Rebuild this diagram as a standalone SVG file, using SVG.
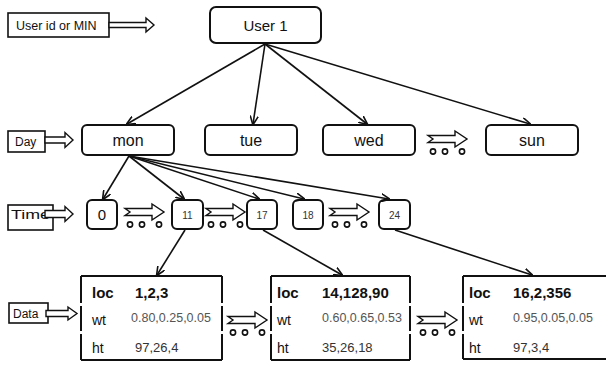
<svg xmlns="http://www.w3.org/2000/svg" xmlns:xlink="http://www.w3.org/1999/xlink" width="606" height="367" viewBox="0 0 606 367">
<style>
text{font-family:"Liberation Sans",Arial,sans-serif;fill:#111}
.node{fill:#fff;stroke:#111;stroke-width:2}
.lbl{fill:#fff;stroke:#111;stroke-width:1.6}
.harrow{fill:#fff;stroke:#111;stroke-width:1.4}
.conn{stroke:#111;stroke-width:1.6;fill:none;marker-end:url(#ah)}
.bord{stroke:#111;stroke-width:2;fill:none}
.dk{font-size:14px}
.bk{font-size:15px;font-weight:bold}
.sm{font-size:12.5px;fill:#555}
.md{font-size:13px;fill:#333}
.nd{font-size:16px}
.tn{font-size:10px;fill:#333}
</style>
<defs>
<marker id="ah" viewBox="0 0 10 10" refX="9" refY="5" markerWidth="9" markerHeight="9" markerUnits="userSpaceOnUse" orient="auto">
<path d="M0,0.5 L10,5 L0,9.5" fill="none" stroke="#111" stroke-width="1.8"/>
</marker>
<g id="ooo">
<path class="harrow" d="M0,-3.5 H27 V-8 L39,0 L27,8 V3.5 H0 L5,0 Z"/>
<circle cx="5" cy="12.5" r="2.6" fill="#fff" stroke="#111" stroke-width="1.6"/>
<circle cx="17" cy="12.5" r="2.6" fill="#fff" stroke="#111" stroke-width="1.6"/>
<circle cx="34" cy="12.5" r="2.6" fill="#fff" stroke="#111" stroke-width="1.6"/>
</g>
</defs>

<g id="legend-user">
<rect class="lbl" x="8" y="13" width="101" height="24"/>
<text x="16" y="30" font-size="12.5">User id or MIN</text>
<path class="harrow" d="M109,22.5 H146 V18 L154,25 L146,32 V27.5 H109 Z"/>
</g>
<g id="legend-day">
<rect class="lbl" x="8" y="131" width="37" height="21"/>
<text x="15" y="146" font-size="12">Day</text>
<path class="harrow" d="M45,137 H65 V132.5 L73,140 L65,147.5 V143 H45 Z"/>
</g>
<g id="legend-time">
<rect class="lbl" x="8" y="205" width="45" height="25"/>
<text x="11" y="219" font-size="13" textLength="39" lengthAdjust="spacingAndGlyphs">Time</text>
<path class="harrow" d="M45,210.5 H65 V206.5 L73,214 L65,221.5 V217.5 H45 Z"/>
</g>
<g id="legend-data">
<rect class="lbl" x="9" y="303" width="39" height="20"/>
<text x="13" y="318" font-size="12">Data</text>
<path class="harrow" d="M46,310.5 H68 V307 L77,313.5 L68,320 V316.5 H46 Z"/>
</g>

<g id="user1"><rect class="node" x="210" y="7" width="111" height="36" rx="6"/><text x="265.5" y="31" font-size="15" text-anchor="middle">User 1</text></g>
<g id="mon"><rect class="node" x="82" y="125" width="92" height="30" rx="5"/><text class="nd" x="128" y="146" text-anchor="middle">mon</text></g>
<g id="tue"><rect class="node" x="205" y="125" width="92" height="30" rx="5"/><text class="nd" x="251" y="146" text-anchor="middle">tue</text></g>
<g id="wed"><rect class="node" x="323" y="125" width="92" height="30" rx="5"/><text class="nd" x="369" y="146" text-anchor="middle">wed</text></g>
<g id="sun"><rect class="node" x="486" y="125" width="92" height="30" rx="5"/><text class="nd" x="532" y="146" text-anchor="middle">sun</text></g>

<g id="t0"><rect class="node" x="87" y="200" width="30" height="29" rx="5"/><text x="102" y="220" font-size="15" text-anchor="middle">0</text></g>
<g id="t11"><rect class="node" x="172" y="200" width="31" height="29" rx="5"/><text class="tn" x="187.5" y="218.5" text-anchor="middle">11</text></g>
<g id="t17"><rect class="node" x="247" y="200" width="30" height="29" rx="5"/><text class="tn" x="262" y="218.5" text-anchor="middle">17</text></g>
<g id="t18"><rect class="node" x="293" y="200" width="30" height="29" rx="5"/><text class="tn" x="308" y="218.5" text-anchor="middle">18</text></g>
<g id="t24"><rect class="node" x="379" y="200" width="31" height="29" rx="5"/><text class="tn" x="394.5" y="218.5" text-anchor="middle">24</text></g>

<g id="data1">
<path class="bord" d="M81,276 H222 M81,360 H222 M81,276 V303 M81,306 V331 M81,334 V360 M222,276 V303 M222,306 V331 M222,334 V360"/>
<text class="bk" x="92" y="298">loc</text><text class="bk" x="135" y="298">1,2,3</text>
<text class="dk" x="92" y="325">wt</text><text class="sm" x="131" y="322">0.80,0.25,0.05</text>
<text class="dk" x="92" y="353">ht</text><text class="md" x="135" y="352">97,26,4</text>
</g>
<g id="data2">
<path class="bord" d="M271,276 H410 M271,360 H410 M271,276 V303 M271,306 V331 M271,334 V360 M410,276 V303 M410,306 V331 M410,334 V360"/>
<text class="bk" x="277" y="298">loc</text><text class="bk" x="322" y="298">14,128,90</text>
<text class="dk" x="277" y="325">wt</text><text class="sm" x="322" y="322">0.60,0.65,0.53</text>
<text class="dk" x="277" y="353">ht</text><text class="md" x="322" y="352">35,26,18</text>
</g>
<g id="data3">
<path class="bord" d="M463,276 H610 M463,359 H610 M463,276 V303 M463,306 V331 M463,334 V359"/>
<text class="bk" x="469" y="298">loc</text><text class="bk" x="513" y="298">16,2,356</text>
<text class="dk" x="469" y="325">wt</text><text class="sm" x="513" y="322">0.95,0.05,0.05</text>
<text class="dk" x="469" y="353">ht</text><text class="md" x="513" y="352">97,3,4</text>
</g>

<g id="connectors">
<line class="conn" x1="265" y1="44" x2="127" y2="124"/>
<line class="conn" x1="265" y1="44" x2="253" y2="124"/>
<line class="conn" x1="265" y1="44" x2="367" y2="124"/>
<line class="conn" x1="265" y1="44" x2="530" y2="124"/>
<line class="conn" x1="129" y1="156" x2="103" y2="199"/>
<line class="conn" x1="129" y1="156" x2="184" y2="199"/>
<line class="conn" x1="129" y1="156" x2="259" y2="199"/>
<line class="conn" x1="129" y1="156" x2="304" y2="199"/>
<line class="conn" x1="129" y1="156" x2="389" y2="199"/>
<line class="conn" x1="185" y1="230" x2="157" y2="275"/>
<line class="conn" x1="263" y1="230" x2="342" y2="275"/>
<line class="conn" x1="395" y1="230" x2="532" y2="275"/>
<use xlink:href="#ooo" x="428" y="139"/>
<use xlink:href="#ooo" x="125" y="212"/>
<use xlink:href="#ooo" x="206" y="212"/>
<use xlink:href="#ooo" x="330" y="212"/>
<use xlink:href="#ooo" x="228" y="320"/>
<use xlink:href="#ooo" x="418" y="320"/>
</g>
</svg>
